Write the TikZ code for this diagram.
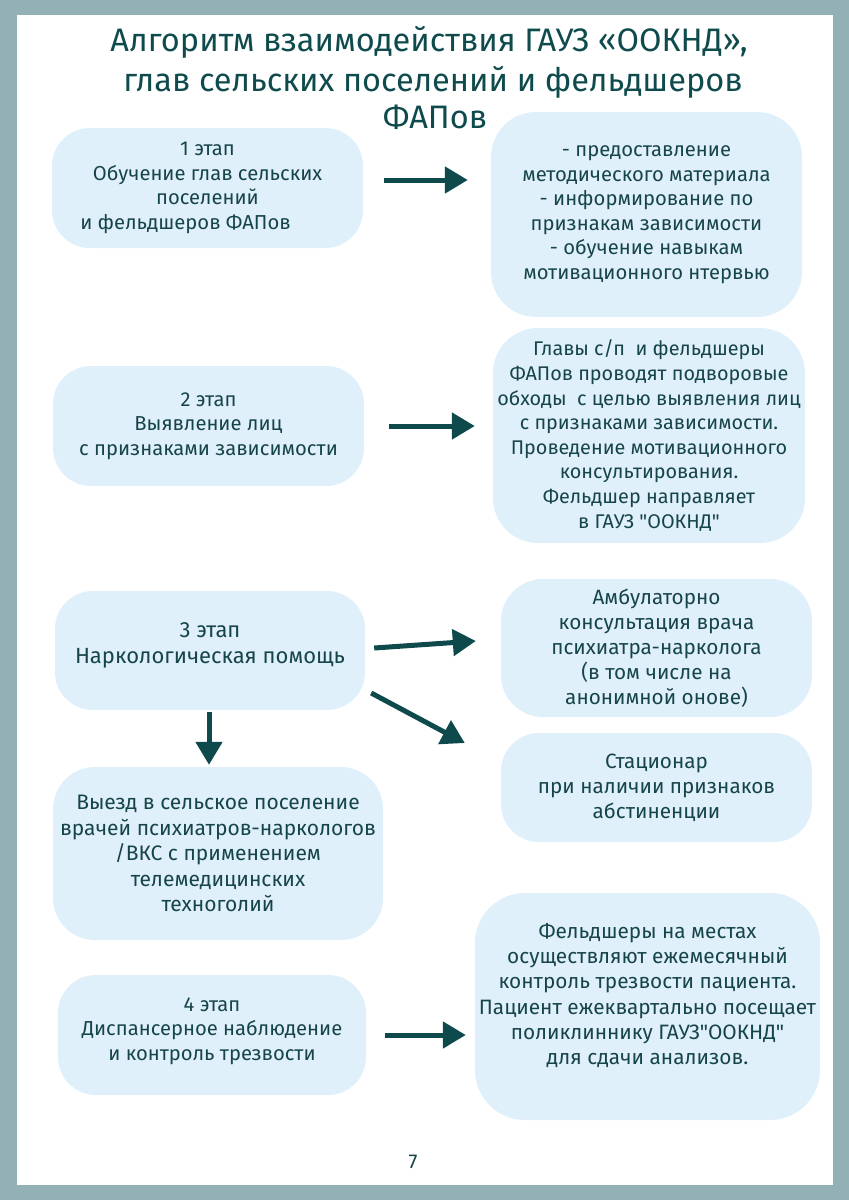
\documentclass[tikz,border=0pt]{standalone}
\usepackage{fontspec}
\setmainfont{Fira Sans}[Ligatures=TeXOff]
\usetikzlibrary{arrows.meta}
\definecolor{frame}{HTML}{93B1B4}
\definecolor{boxfill}{HTML}{E0F0FB}
\definecolor{txt}{HTML}{164547}
\definecolor{titlec}{HTML}{0F4B4C}
\definecolor{arrc}{HTML}{0E4A4B}
\tikzset{
  box/.style={fill=boxfill, rounded corners=38pt, align=center, text=txt,
    font=\fontsize{20.2}{24.5}\selectfont, inner sep=0pt},
  boxl/.style={box, font=\fontsize{20.7}{25}\selectfont},
  ttl/.style={text=titlec, font=\fontsize{32.5}{38}\selectfont, anchor=base, inner sep=0pt},
  arr/.style={draw=arrc, line width=5pt, -{Triangle[length=23pt,width=26pt]}},
}
\begin{document}
\begin{tikzpicture}[x=1pt,y=-1pt]
\useasboundingbox (0,0) rectangle (849,1200);
\fill[frame] (0,0) rectangle (849,1200);
\fill[white] (17,15) rectangle (833,1185);

\node[ttl] (t1) at (429,51) {Алгоритм взаимодействия ГАУЗ «ООКНД»,};
\node[ttl] (t2) at (433,91) {глав сельских поселений и фельдшеров};
\node[ttl] (t3) at (435,128) {ФАПов};

\node[box, minimum width=311pt, minimum height=120pt] (a1) at (207.5,188)
  {1 этап\\Обучение глав сельских\\поселений\\и фельдшеров ФАПов\hspace*{44pt}};
\node[box, minimum width=311pt, minimum height=205pt, rounded corners=45pt] (b1) at (646.5,214.5)
  {- предоставление\\методического материала\\- информирование по\\признакам зависимости\\- обучение навыкам\\мотивационного нтервью};

\node[box, minimum width=311pt, minimum height=120pt] (a2) at (208.5,426)
  {2 этап\\Выявление лиц\\с признаками зависимости};
\node[box, font=\fontsize{19.8}{24.6}\selectfont, minimum width=312pt, minimum height=215pt, rounded corners=45pt] (b2) at (649,435.5)
  {Главы с/п\ \ и фельдшеры\\ФАПов проводят подворовые\\обходы\ \ с целью выявления лиц\\с признаками зависимости.\\Проведение мотивационного\\консультирования.\\Фельдшер направляет\\в ГАУЗ "ООКНД"};

\node[box, font=\fontsize{22}{26}\selectfont, minimum width=310pt, minimum height=119pt] (a3) at (210,650.5)
  {3 этап\\Наркологическая помощь\\[-12pt]\mbox{}};
\node[boxl, minimum width=311pt, minimum height=138pt, rounded corners=42pt] (b3a) at (656.5,648)
  {Амбулаторно\\консультация врача\\психиатра-нарколога\\(в том числе на\\анонимной онове)};
\node[boxl, minimum width=311pt, minimum height=109pt] (b3b) at (656.5,787.5)
  {Стационар\\при наличии признаков\\абстиненции};
\node[boxl, font=\fontsize{21}{25.5}\selectfont, minimum width=330pt, minimum height=173pt, rounded corners=42pt] (a3b) at (218,853.5)
  {Выезд в сельское поселение\\врачей психиатров-наркологов\\/ВКС с применением\\телемедицинских\\техноголий};

\node[box, minimum width=308pt, minimum height=120pt] (a4) at (212,1035)
  {4 этап\\Диспансерное наблюдение\\и контроль трезвости\\[-12pt]\mbox{}};
\node[boxl, font=\fontsize{20.8}{25.2}\selectfont, minimum width=345pt, minimum height=227pt, rounded corners=50pt] (b4) at (647.5,1006.5)
  {Фельдшеры на местах\\осуществляют ежемесячный\\контроль трезвости пациента.\\Пациент ежеквартально посещает\\поликлиннику ГАУЗ"ООКНД"\\для сдачи анализов.\\\mbox{}};

\node[text=txt, font=\fontsize{20}{24}\selectfont, anchor=base, inner sep=0pt] (pg) at (413,1168) {7};

\draw[arr] ([shift={(21,-8)}]a1.east) -- ([shift={(-23,-34.5)}]b1.west);
\draw[arr] ([shift={(25,0)}]a2.east) -- ([shift={(-18,-9.5)}]b2.west);
\draw[arr] ([shift={(9,-2.5)}]a3.east) -- ([shift={(-25,-7)}]b3a.west);
\draw[arr] ([shift={(6,42.5)}]a3.east) -- ([shift={(-36,-44.5)}]b3b.west);
\draw[arr] ([shift={(-1,2)}]a3.south) -- ([shift={(-9,-2)}]a3b.north);
\draw[arr] ([shift={(19,0)}]a4.east) -- ([shift={(-9,28.5)}]b4.west);
\end{tikzpicture}
\end{document}
